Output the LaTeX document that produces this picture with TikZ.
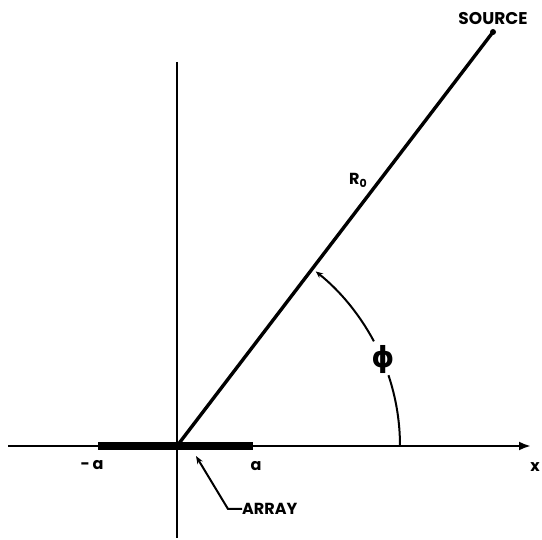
\documentclass[tikz,border=0pt]{standalone}
\usepackage{fontspec}
\setmainfont{Poppins}
\newfontfamily\dvfont{DejaVu Sans}
\usetikzlibrary{arrows.meta}
\begin{document}
\begin{tikzpicture}[x=1pt,y=-1pt,
  lbl/.style={font=\bfseries\fontsize{16}{16}\selectfont, inner sep=0pt},
  axisline/.style={line width=2.6pt},
  arcline/.style={line width=2pt}]
\useasboundingbox (0,0) rectangle (542,540);
\coordinate (O) at (177,446);
\coordinate (xl) at (8,446);
\coordinate (xr) at (531,446);
\coordinate (yt) at (177,62);
\coordinate (yb) at (177,538);
\coordinate (al) at (98,446);
\coordinate (ar) at (253,446);
\node[circle, fill, inner sep=0pt, minimum size=6pt] (src) at (493,32) {};
\draw[line width=2.4pt] (yt) -- (yb);
\draw[axisline, -{Latex[length=12pt,width=9pt]}] (xl) -- (xr);
\draw[line width=8pt] (al) -- (ar);
\draw[line width=3.4pt] (O) -- (src.center);
\node[lbl, font=\bfseries\fontsize{17}{17}\selectfont] (source) at (493,19) {SOURCE};
\node[lbl] (r0) at (358,180) {R\raisebox{-3pt}{\fontsize{11}{11}\selectfont 0}};
\node[lbl] (ma) at (92,465) {-\,a};
\node[lbl] (pa) at (256,466) {a};
\node[lbl] (xlab) at (535,467) {x};
\node[lbl, anchor=west] (array) at (242,509) {ARRAY};
\coordinate (bend) at (228,509);
\coordinate (tip) at (196,456);
\draw[line width=2pt, -{Stealth[length=8pt,width=6pt]}] (array.west) -- (bend) -- (tip);
\node[inner sep=0pt] (phi) at (383,360) {\dvfont\bfseries\fontsize{29}{30}\selectfont ϕ};
\draw[arcline] (O) ++(0:223) arc[start angle=0, end angle=-18.5, radius=223];
\draw[arcline, -{Stealth[length=7pt,width=6pt]}] (O) ++(-28:223) arc[start angle=-28, end angle=-51.5, radius=223];
\end{tikzpicture}
\end{document}
